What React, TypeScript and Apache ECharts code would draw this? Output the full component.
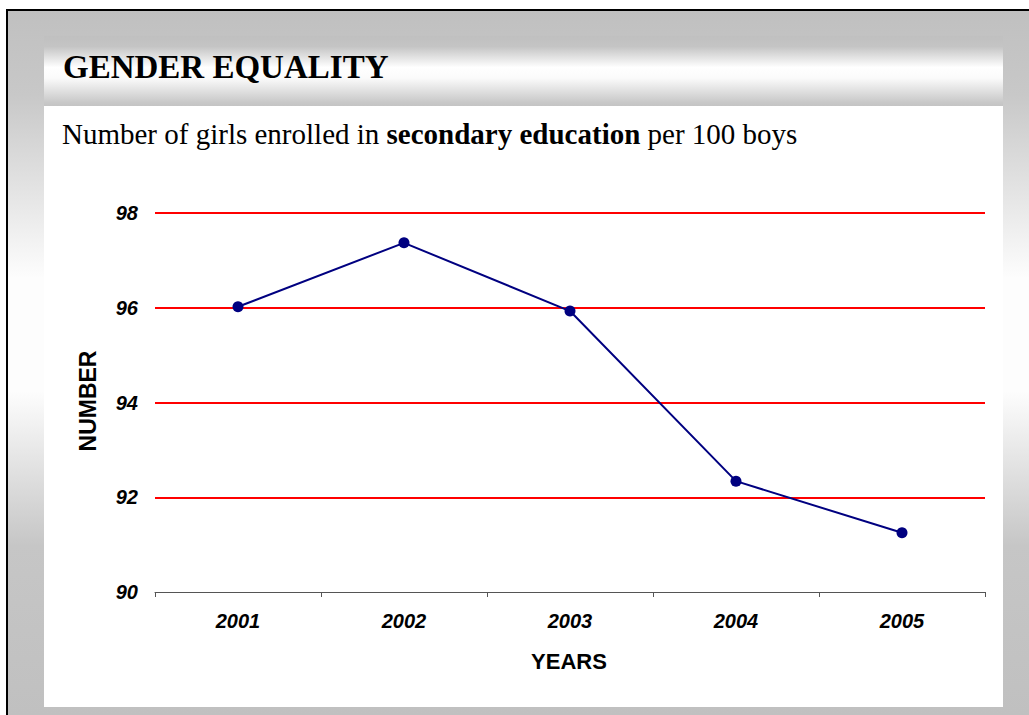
import React, { useEffect, useRef } from "react";
import * as echarts from "echarts";

const years = ["2001", "2002", "2003", "2004", "2005"];
const girlsPer100Boys = [96.02, 97.37, 95.93, 92.34, 91.25];
const yMin = 90;
const yMax = 98;
const yStep = 2;

const titleText = "GENDER EQUALITY";
const subtitleA = "Number of girls enrolled in ";
const subtitleB = "secondary education";
const subtitleC = " per 100 boys";
const xAxisTitle = "YEARS";
const yAxisTitle = "NUMBER";

const W = 1029;
const H = 715;

export default function App() {
  const ref = useRef<HTMLDivElement>(null);
  useEffect(() => {
    if (!ref.current) return;
    const chart = echarts.init(ref.current, null, { renderer: "svg", width: W, height: H });
    const sideGrad = {
      type: "linear", x: 0, y: 0, x2: 0, y2: 1,
      colorStops: [
        { offset: 0, color: "#c0c0c0" },
        { offset: 0.12, color: "#c8c8c8" },
        { offset: 0.38, color: "#fdfdfd" },
        { offset: 0.54, color: "#fdfdfd" },
        { offset: 0.76, color: "#c6c6c6" },
        { offset: 1, color: "#c0c0c0" },
      ],
    };
    const barGrad = {
      type: "linear", x: 0, y: 0, x2: 0, y2: 1,
      colorStops: [
        { offset: 0, color: "#c0c0c0" },
        { offset: 0.15, color: "#c4c4c4" },
        { offset: 0.45, color: "#ffffff" },
        { offset: 0.6, color: "#fbfbfb" },
        { offset: 0.95, color: "#c8c8c8" },
        { offset: 1, color: "#c4c4c4" },
      ],
    };
    const font = "'Liberation Sans', Arial, sans-serif";
    const serif = "'Liberation Serif', 'Times New Roman', serif";
    chart.setOption({
      animation: false,
      backgroundColor: "#ffffff",
      graphic: [
        { type: "rect", z: -10, shape: { x: 6, y: 9, width: W - 6, height: H - 9 }, style: { fill: "#000000" } },
        { type: "rect", z: -9, shape: { x: 8, y: 11, width: W - 8, height: H - 11 }, style: { fill: sideGrad } },
        { type: "rect", z: -8, shape: { x: 44, y: 36, width: 959, height: 70 }, style: { fill: barGrad } },
        { type: "rect", z: -8, shape: { x: 44, y: 106, width: 959, height: 601 }, style: { fill: "#ffffff" } },
        {
          type: "text", z: 10, x: 63, y: 67,
          style: { text: titleText, fontFamily: serif, fontWeight: "bold", fontSize: 33, fill: "#000", verticalAlign: "middle" },
        },
        {
          type: "text", z: 10, x: 62, y: 134,
          style: {
            text: `{a|${subtitleA}}{b|${subtitleB}}{a|${subtitleC}}`,
            verticalAlign: "middle",
            rich: {
              a: { fontFamily: serif, fontSize: 29, fill: "#000", color: "#000" },
              b: { fontFamily: serif, fontSize: 29, fontWeight: "bold", fill: "#000", color: "#000" },
            },
          },
        },
        {
          type: "text", z: 10, x: 569, y: 661,
          style: { text: xAxisTitle, fontFamily: font, fontWeight: "bold", fontSize: 22, fill: "#000", align: "center", verticalAlign: "middle" },
        },
        {
          type: "text", z: 10, x: 88, y: 401, rotation: Math.PI / 2,
          style: { text: yAxisTitle, fontFamily: font, fontWeight: "bold", fontSize: 23, fill: "#000", align: "center", verticalAlign: "middle" },
        },
      ],
      grid: { left: 155, right: W - 985, top: 213, bottom: H - 592, containLabel: false },
      xAxis: {
        type: "category",
        data: years,
        boundaryGap: true,
        axisLine: { show: true, lineStyle: { color: "#555555", width: 1 } },
        axisTick: { show: true, length: 5, alignWithLabel: false, lineStyle: { color: "#555555" } },
        axisLabel: { margin: 19, fontFamily: font, fontSize: 20, fontWeight: "bold", fontStyle: "italic", color: "#000" },
        splitLine: { show: false },
      },
      yAxis: {
        type: "value",
        min: yMin,
        max: yMax,
        interval: yStep,
        axisLine: { show: false },
        axisTick: { show: false },
        axisLabel: { margin: 17, fontFamily: font, fontSize: 20, fontWeight: "bold", fontStyle: "italic", color: "#000" },
        splitLine: { show: true, lineStyle: { color: ["transparent", "#ff0000", "#ff0000", "#ff0000", "#ff0000"], width: 2 } },
      },
      series: [
        {
          type: "line",
          data: girlsPer100Boys,
          symbol: "circle",
          symbolSize: 11,
          lineStyle: { color: "#000080", width: 2 },
          itemStyle: { color: "#000080" },
          z: 5,
        },
      ],
    });
    return () => chart.dispose();
  }, []);
  return <div ref={ref} style={{ position: "absolute", left: 0, top: 0, width: W, height: H }} />;
}
